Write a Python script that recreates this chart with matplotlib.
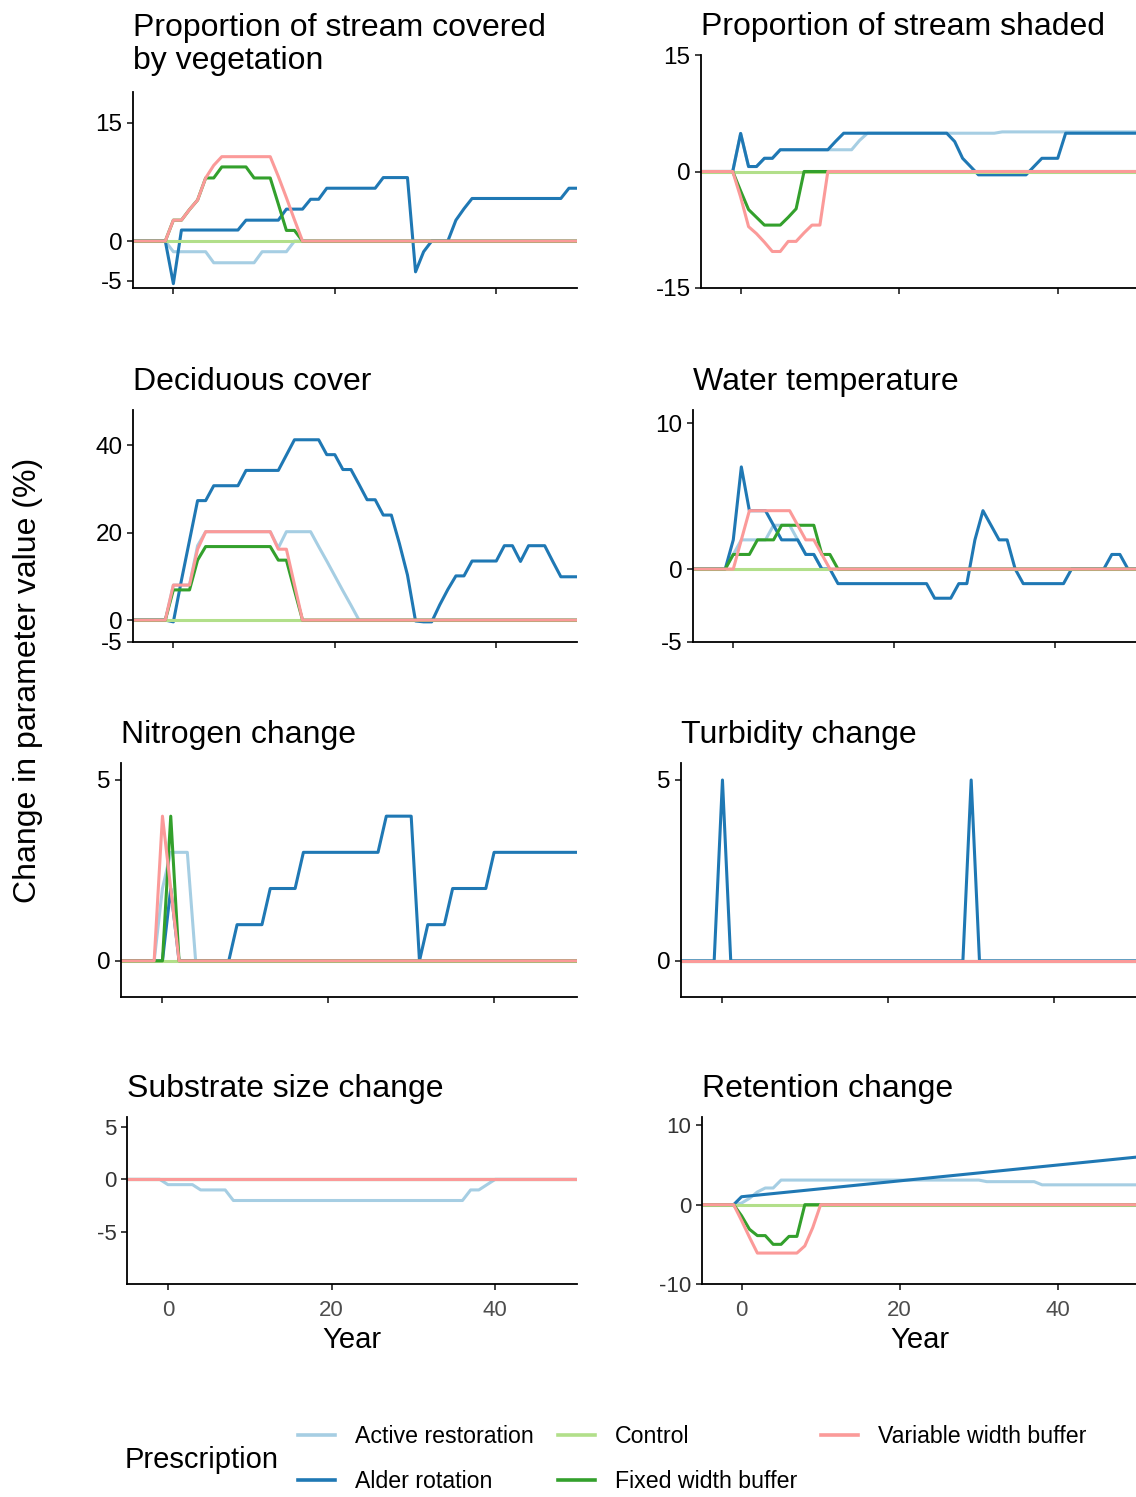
import matplotlib
matplotlib.use("Agg")
import matplotlib.pyplot as plt
from matplotlib.lines import Line2D

plt.rcParams["font.family"] = ["Liberation Sans", "DejaVu Sans"]
plt.rcParams["axes.unicode_minus"] = False

W, H = 1136, 1497

# ── Data ─────────────────────────────────────────────────
years = list(range(-5, 51))

prescriptions = ["Active restoration", "Alder rotation", "Control",
                 "Fixed width buffer", "Variable width buffer"]
colors = ["#A6CEE3", "#1F78B4", "#B2DF8A", "#33A02C", "#FB9A99"]

# control is flat at zero in every panel
control_flat = [0, 0, 0, 0, 0,
                0, 0, 0, 0, 0, 0, 0, 0, 0, 0,
                0, 0, 0, 0, 0, 0, 0, 0, 0, 0,
                0, 0, 0, 0, 0, 0, 0, 0, 0, 0,
                0, 0, 0, 0, 0, 0, 0, 0, 0, 0,
                0, 0, 0, 0, 0, 0, 0, 0, 0, 0,
                0]

# Proportion of stream covered by vegetation
veg_active = [0, 0, 0, 0, 0,
              -1.35, -1.35, -1.35, -1.35, -1.35, -2.75, -2.75, -2.75, -2.75, -2.75,
              -2.75, -1.35, -1.35, -1.35, -1.35, 0, 0, 0, 0, 0,
              0, 0, 0, 0, 0, 0, 0, 0, 0, 0,
              0, 0, 0, 0, 0, 0, 0, 0, 0, 0,
              0, 0, 0, 0, 0, 0, 0, 0, 0, 0,
              0]
veg_alder = [0, 0, 0, 0, 0,
             -5.4, 1.4, 1.4, 1.4, 1.4, 1.4, 1.4, 1.4, 1.4, 2.65,
             2.65, 2.65, 2.65, 2.65, 4.05, 4.05, 4.05, 5.3, 5.3, 6.7,
             6.7, 6.7, 6.7, 6.7, 6.7, 6.7, 8.05, 8.05, 8.05, 8.05,
             -3.9, -1.35, 0, 0, 0, 2.65, 4.1, 5.4, 5.4, 5.4,
             5.4, 5.4, 5.4, 5.4, 5.4, 5.4, 5.4, 5.4, 5.4, 6.7,
             6.7]
veg_fixed = [0, 0, 0, 0, 0,
             2.65, 2.65, 4.0, 5.2, 8.0, 8.0, 9.4, 9.4, 9.4, 9.4,
             8.0, 8.0, 8.0, 4.7, 1.35, 1.35, 0, 0, 0, 0,
             0, 0, 0, 0, 0, 0, 0, 0, 0, 0,
             0, 0, 0, 0, 0, 0, 0, 0, 0, 0,
             0, 0, 0, 0, 0, 0, 0, 0, 0, 0,
             0]
veg_variable = [0, 0, 0, 0, 0,
                2.65, 2.65, 4.0, 5.2, 8.0, 9.6, 10.7, 10.7, 10.7, 10.7,
                10.7, 10.7, 10.7, 8.2, 5.5, 2.7, 0, 0, 0, 0,
                0, 0, 0, 0, 0, 0, 0, 0, 0, 0,
                0, 0, 0, 0, 0, 0, 0, 0, 0, 0,
                0, 0, 0, 0, 0, 0, 0, 0, 0, 0,
                0]

# Proportion of stream shaded
shade_active = [0, 0, 0, 0, 0,
                4.9, 0.64, 0.64, 1.7, 1.7, 2.8, 2.8, 2.8, 2.8, 2.8,
                2.8, 2.8, 2.8, 2.8, 2.8, 4.0, 4.93, 4.93, 4.93, 4.93,
                4.93, 4.93, 4.93, 4.93, 4.93, 4.93, 4.93, 4.93, 4.93, 4.93,
                4.93, 4.93, 4.93, 5.1, 5.1, 5.1, 5.1, 5.1, 5.1, 5.1,
                5.1, 5.1, 5.1, 5.1, 5.1, 5.1, 5.1, 5.1, 5.1, 5.1,
                5.1]
shade_alder = [0, 0, 0, 0, 0,
               4.9, 0.64, 0.64, 1.7, 1.7, 2.8, 2.8, 2.8, 2.8, 2.8,
               2.8, 2.8, 3.9, 4.93, 4.93, 4.93, 4.93, 4.93, 4.93, 4.93,
               4.93, 4.93, 4.93, 4.93, 4.93, 4.93, 4.93, 3.86, 1.7, 0.64,
               -0.43, -0.43, -0.43, -0.43, -0.43, -0.43, -0.43, 0.64, 1.7, 1.7,
               1.7, 4.93, 4.93, 4.93, 4.93, 4.93, 4.93, 4.93, 4.93, 4.93,
               4.93]
shade_fixed = [0, 0, 0, 0, 0,
               -2.5, -4.9, -5.9, -6.9, -6.9, -6.9, -5.9, -4.8, 0, 0,
               0, 0, 0, 0, 0, 0, 0, 0, 0, 0,
               0, 0, 0, 0, 0, 0, 0, 0, 0, 0,
               0, 0, 0, 0, 0, 0, 0, 0, 0, 0,
               0, 0, 0, 0, 0, 0, 0, 0, 0, 0,
               0]
shade_variable = [0, 0, 0, 0, 0,
                  -3.3, -7.1, -8.0, -9.1, -10.3, -10.3, -9.0, -9.0, -7.9, -6.9,
                  -6.9, 0, 0, 0, 0, 0, 0, 0, 0, 0,
                  0, 0, 0, 0, 0, 0, 0, 0, 0, 0,
                  0, 0, 0, 0, 0, 0, 0, 0, 0, 0,
                  0, 0, 0, 0, 0, 0, 0, 0, 0, 0,
                  0]

# Deciduous cover
decid_active = [0, 0, 0, 0, 0,
                8.0, 8.0, 8.0, 17.0, 20.2, 20.2, 20.2, 20.2, 20.2, 20.2,
                20.2, 20.2, 20.2, 16.5, 20.2, 20.2, 20.2, 20.2, 16.8, 13.5,
                10.1, 6.7, 3.4, 0, 0, 0, 0, 0, 0, 0,
                0, 0, 0, 0, 0, 0, 0, 0, 0, 0,
                0, 0, 0, 0, 0, 0, 0, 0, 0, 0,
                0]
decid_alder = [0, 0, 0, 0, 0,
               -0.4, 9.1, 18.2, 27.3, 27.3, 30.7, 30.7, 30.7, 30.7, 34.2,
               34.2, 34.2, 34.2, 34.2, 37.7, 41.2, 41.2, 41.2, 41.2, 37.8,
               37.8, 34.4, 34.4, 31.0, 27.5, 27.5, 24.0, 24.0, 17.5, 10.3,
               -0.2, -0.4, -0.4, 3.5, 7.0, 10.1, 10.1, 13.5, 13.5, 13.5,
               13.5, 17.0, 17.0, 13.4, 17.0, 17.0, 17.0, 13.4, 9.9, 9.9,
               9.9]
decid_fixed = [0, 0, 0, 0, 0,
               6.9, 6.9, 6.9, 13.7, 16.8, 16.8, 16.8, 16.8, 16.8, 16.8,
               16.8, 16.8, 16.8, 13.7, 13.7, 6.8, 0, 0, 0, 0,
               0, 0, 0, 0, 0, 0, 0, 0, 0, 0,
               0, 0, 0, 0, 0, 0, 0, 0, 0, 0,
               0, 0, 0, 0, 0, 0, 0, 0, 0, 0,
               0]
decid_variable = [0, 0, 0, 0, 0,
                  8.0, 8.0, 8.0, 16.2, 20.2, 20.2, 20.2, 20.2, 20.2, 20.2,
                  20.2, 20.2, 20.2, 16.2, 16.2, 8.1, 0, 0, 0, 0,
                  0, 0, 0, 0, 0, 0, 0, 0, 0, 0,
                  0, 0, 0, 0, 0, 0, 0, 0, 0, 0,
                  0, 0, 0, 0, 0, 0, 0, 0, 0, 0,
                  0]

# Water temperature
temp_active = [0, 0, 0, 0, 0,
               1, 2, 2, 2, 2, 3, 3, 3, 2, 1,
               1, 0, 0, 0, 0, 0, 0, 0, 0, 0,
               0, 0, 0, 0, 0, 0, 0, 0, 0, 0,
               0, 0, 0, 0, 0, 0, 0, 0, 0, 0,
               0, 0, 0, 0, 0, 0, 0, 0, 0, 0,
               0]
temp_alder = [0, 0, 0, 0, 0,
              2, 7, 4, 4, 4, 3, 2, 2, 2, 1,
              1, 0, 0, -1, -1, -1, -1, -1, -1, -1,
              -1, -1, -1, -1, -1, -2, -2, -2, -1, -1,
              2, 4, 3, 2, 2, 0, -1, -1, -1, -1,
              -1, -1, 0, 0, 0, 0, 0, 1, 1, 0,
              0]
temp_fixed = [0, 0, 0, 0, 0,
              1, 1, 1, 2, 2, 2, 3, 3, 3, 3,
              3, 1, 1, 0, 0, 0, 0, 0, 0, 0,
              0, 0, 0, 0, 0, 0, 0, 0, 0, 0,
              0, 0, 0, 0, 0, 0, 0, 0, 0, 0,
              0, 0, 0, 0, 0, 0, 0, 0, 0, 0,
              0]
temp_variable = [0, 0, 0, 0, 0,
                 0, 2, 4, 4, 4, 4, 4, 4, 3, 2,
                 2, 1, 0, 0, 0, 0, 0, 0, 0, 0,
                 0, 0, 0, 0, 0, 0, 0, 0, 0, 0,
                 0, 0, 0, 0, 0, 0, 0, 0, 0, 0,
                 0, 0, 0, 0, 0, 0, 0, 0, 0, 0,
                 0]

# Nitrogen change
nitro_active = [0, 0, 0, 0, 0,
                2, 3, 3, 3, 0, 0, 0, 0, 0, 0,
                0, 0, 0, 0, 0, 0, 0, 0, 0, 0,
                0, 0, 0, 0, 0, 0, 0, 0, 0, 0,
                0, 0, 0, 0, 0, 0, 0, 0, 0, 0,
                0, 0, 0, 0, 0, 0, 0, 0, 0, 0,
                0]
nitro_alder = [0, 0, 0, 0, 0,
               0, 2, 0, 0, 0, 0, 0, 0, 0, 1,
               1, 1, 1, 2, 2, 2, 2, 3, 3, 3,
               3, 3, 3, 3, 3, 3, 3, 4, 4, 4,
               4, 0, 1, 1, 1, 2, 2, 2, 2, 2,
               3, 3, 3, 3, 3, 3, 3, 3, 3, 3,
               3]
nitro_fixed = [0, 0, 0, 0, 0,
               0, 4, 0, 0, 0, 0, 0, 0, 0, 0,
               0, 0, 0, 0, 0, 0, 0, 0, 0, 0,
               0, 0, 0, 0, 0, 0, 0, 0, 0, 0,
               0, 0, 0, 0, 0, 0, 0, 0, 0, 0,
               0, 0, 0, 0, 0, 0, 0, 0, 0, 0,
               0]
nitro_variable = [0, 0, 0, 0, 0,
                  4, 2, 0, 0, 0, 0, 0, 0, 0, 0,
                  0, 0, 0, 0, 0, 0, 0, 0, 0, 0,
                  0, 0, 0, 0, 0, 0, 0, 0, 0, 0,
                  0, 0, 0, 0, 0, 0, 0, 0, 0, 0,
                  0, 0, 0, 0, 0, 0, 0, 0, 0, 0,
                  0]

# Turbidity change
turb_alder = [0, 0, 0, 0, 0,
              5, 0, 0, 0, 0, 0, 0, 0, 0, 0,
              0, 0, 0, 0, 0, 0, 0, 0, 0, 0,
              0, 0, 0, 0, 0, 0, 0, 0, 0, 0,
              5, 0, 0, 0, 0, 0, 0, 0, 0, 0,
              0, 0, 0, 0, 0, 0, 0, 0, 0, 0,
              0]

# Substrate size change
sub_active = [0, 0, 0, 0, 0,
              -0.5, -0.5, -0.5, -0.5, -1, -1, -1, -1, -2, -2,
              -2, -2, -2, -2, -2, -2, -2, -2, -2, -2,
              -2, -2, -2, -2, -2, -2, -2, -2, -2, -2,
              -2, -2, -2, -2, -2, -2, -2, -1, -1, -0.5,
              0, 0, 0, 0, 0, 0, 0, 0, 0, 0,
              0]

# Retention change
ret_active = [0, 0, 0, 0, 0,
              0.2, 0.8, 1.6, 2.1, 2.1, 3.1, 3.1, 3.1, 3.1, 3.1,
              3.1, 3.1, 3.1, 3.1, 3.1, 3.1, 3.1, 3.1, 3.1, 3.1,
              3.1, 3.1, 3.1, 3.1, 3.1, 3.1, 3.1, 3.1, 3.1, 3.1,
              3.1, 2.9, 2.9, 2.9, 2.9, 2.9, 2.9, 2.9, 2.5, 2.5,
              2.5, 2.5, 2.5, 2.5, 2.5, 2.5, 2.5, 2.5, 2.5, 2.5,
              2.5]
ret_alder = [0, 0, 0, 0, 0,
             1.0, 1.1, 1.2, 1.3, 1.4, 1.5, 1.6, 1.7, 1.8, 1.9,
             2.0, 2.1, 2.2, 2.3, 2.4, 2.5, 2.6, 2.7, 2.8, 2.9,
             3.0, 3.1, 3.2, 3.3, 3.4, 3.5, 3.6, 3.7, 3.8, 3.9,
             4.0, 4.1, 4.2, 4.3, 4.4, 4.5, 4.6, 4.7, 4.8, 4.9,
             5.0, 5.1, 5.2, 5.3, 5.4, 5.5, 5.6, 5.7, 5.8, 5.9,
             6.0]
ret_fixed = [0, 0, 0, 0, 0,
             -1.4, -3.1, -3.9, -3.9, -5.0, -5.0, -4.0, -4.0, 0, 0,
             0, 0, 0, 0, 0, 0, 0, 0, 0, 0,
             0, 0, 0, 0, 0, 0, 0, 0, 0, 0,
             0, 0, 0, 0, 0, 0, 0, 0, 0, 0,
             0, 0, 0, 0, 0, 0, 0, 0, 0, 0,
             0]
ret_variable = [0, 0, 0, 0, 0,
                -2.0, -4.1, -6.1, -6.1, -6.1, -6.1, -6.1, -6.1, -5.2, -2.9,
                0, 0, 0, 0, 0, 0, 0, 0, 0, 0,
                0, 0, 0, 0, 0, 0, 0, 0, 0, 0,
                0, 0, 0, 0, 0, 0, 0, 0, 0, 0,
                0, 0, 0, 0, 0, 0, 0, 0, 0, 0,
                0]

# ── Panel layout (pixel boxes: left, top, right, bottom) ──
panels = [
    ("Proportion of stream covered\nby vegetation",
     [veg_active, veg_alder, control_flat, veg_fixed, veg_variable],
     (-5.95, 18.9), [-5, 0, 15], (133, 92, 577, 288), False, 16.5),
    ("Proportion of stream shaded",
     [shade_active, shade_alder, control_flat, shade_fixed, shade_variable],
     (-15, 15), [-15, 0, 15], (701, 55, 1137, 288), False, 14.5),
    ("Deciduous cover",
     [decid_active, decid_alder, control_flat, decid_fixed, decid_variable],
     (-5, 48), [-5, 0, 20, 40], (133, 410, 577, 642), False, 14.5),
    ("Water temperature",
     [temp_active, temp_alder, control_flat, temp_fixed, temp_variable],
     (-5, 10.9), [-5, 0, 10], (693, 410, 1136, 642), False, 14.5),
    ("Nitrogen change",
     [nitro_active, nitro_alder, control_flat, nitro_fixed, nitro_variable],
     (-1.0, 5.47), [0, 5], (121, 763, 577, 997), False, 14.5),
    ("Turbidity change",
     [control_flat, turb_alder, control_flat, control_flat, control_flat],
     (-1.0, 5.47), [0, 5], (681, 763, 1137, 997), False, 14.5),
    ("Substrate size change",
     [sub_active, control_flat, control_flat, control_flat, control_flat],
     (-9.9, 5.9), [-5, 0, 5], (127, 1117, 577, 1284), True, 14.5),
    ("Retention change",
     [ret_active, ret_alder, control_flat, ret_fixed, ret_variable],
     (-10, 11.05), [-10, 0, 10], (702, 1117, 1137, 1284), True, 14.5),
]

fig = plt.figure(figsize=(W / 100, H / 100), dpi=100)

for title, series, ylim, yticks, (l, t, r, b), bottom_row, tpad in panels:
    ax = fig.add_axes([l / W, 1 - b / H, (r - l) / W, (b - t) / H])
    for vals, col in zip(series, colors):
        ax.plot(years, vals, color=col, lw=2.2,
                solid_joinstyle="round", solid_capstyle="butt")
    ax.set_xlim(-5, 50)
    ax.set_ylim(*ylim)
    ax.set_xticks([0, 20, 40])
    ax.set_yticks(yticks)
    for side in ["top", "right"]:
        ax.spines[side].set_visible(False)
    for side in ["left", "bottom"]:
        ax.spines[side].set_linewidth(1.3)
    ax.tick_params(length=4.5, width=1.3, color="#333333")
    if bottom_row:
        ax.tick_params(axis="x", labelsize=16, labelcolor="#4D4D4D", pad=7)
        ax.tick_params(axis="y", labelsize=16, labelcolor="#333333", pad=3)
    else:
        ax.set_xticklabels([])
        ax.tick_params(axis="y", labelsize=17.5, labelcolor="black", pad=3)
    ax.set_title(title, loc="left", fontsize=23, pad=tpad, linespacing=1.12)
    if bottom_row:
        cx = (l + r) / 2
        fig.text(cx / W, 1 - 1340 / H, "Year", fontsize=21,
                 ha="center", va="center")

fig.text(28 / W, 1 - 680 / H, "Change in parameter value (%)", fontsize=23,
         rotation=90, ha="center", va="center")

# ── Legend ───────────────────────────────────────────────
handles = [Line2D([], [], color=c, lw=2.6) for c in colors]
fig.legend(handles, prescriptions, ncol=3, loc="center left",
           bbox_to_anchor=(298 / W, 1 - 1459 / H), frameon=False,
           fontsize=16.7, handlelength=1.6, handletextpad=0.85,
           columnspacing=1.05, labelspacing=0.97,
           borderpad=0, borderaxespad=0)
fig.text(125 / W, 1 - 1460 / H, "Prescription", fontsize=21,
         ha="left", va="center")

fig.savefig("out.png", dpi=100)
print("saved out.png")
